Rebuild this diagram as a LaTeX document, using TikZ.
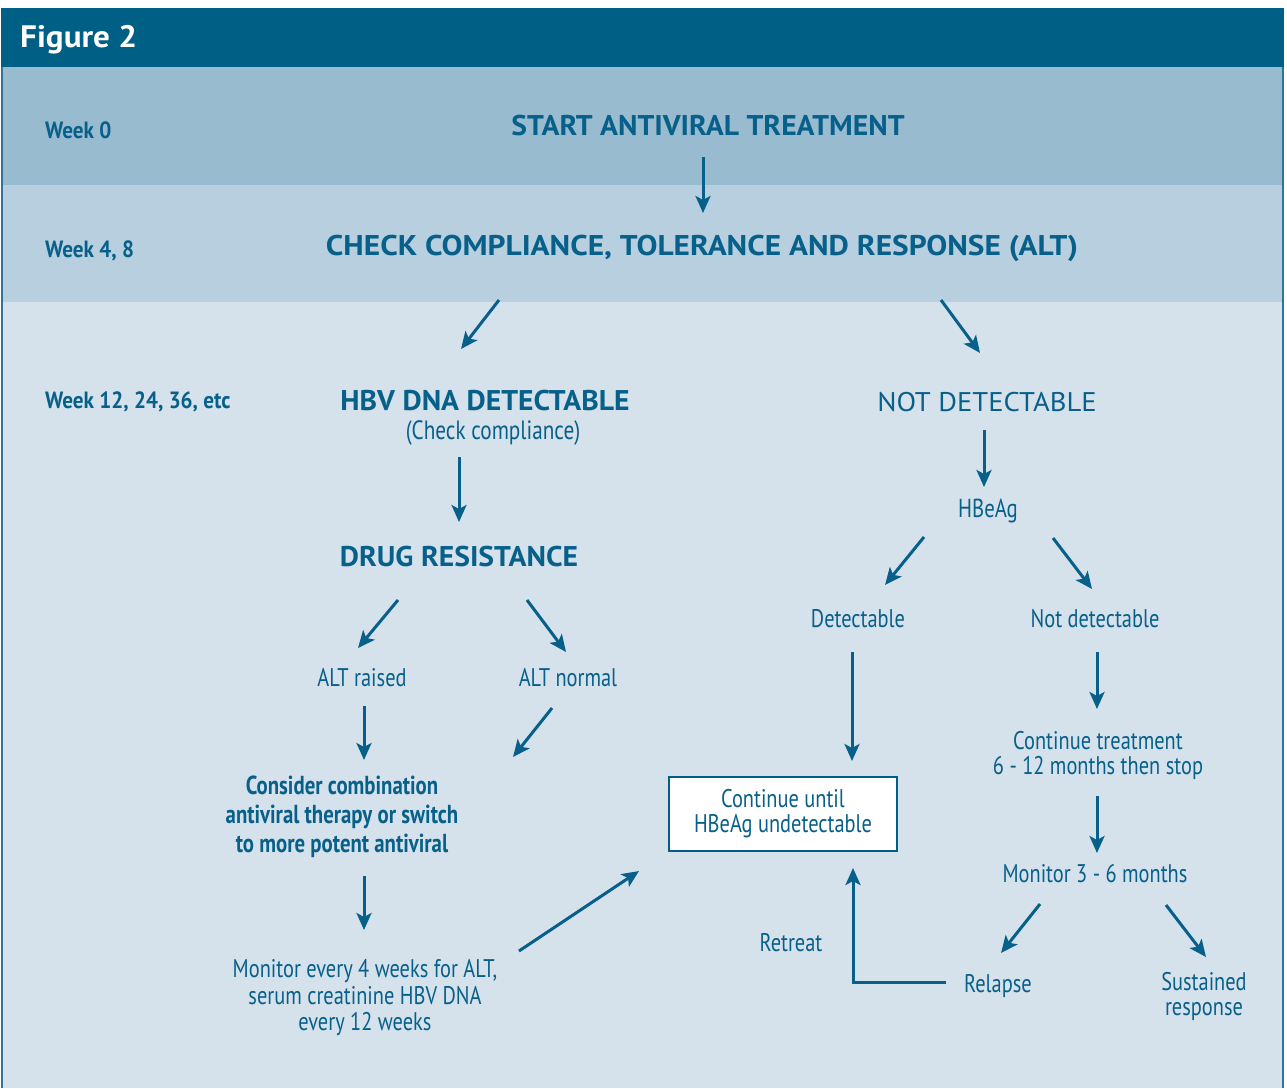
\documentclass[tikz,border=0pt]{standalone}
\usepackage{fontspec}
\setmainfont{PT Sans}[FakeStretch=0.8]
\newfontfamily\bigboldfont{PT Sans}[FakeStretch=1.04]
\newfontfamily\checkfont{PT Sans}[FakeStretch=1.10]
\newfontfamily\figfont{PT Sans}[FakeStretch=1.07]
\newfontfamily\weekfont{PT Sans}[FakeStretch=0.9]
\newfontfamily\capsfont{PT Sans}[FakeStretch=1.06]
\usetikzlibrary{arrows.meta}
\definecolor{hdr}{HTML}{005F84}
\definecolor{bandA}{HTML}{99BBD0}
\definecolor{bandB}{HTML}{B7CFDE}
\definecolor{bandC}{HTML}{D5E1EB}
\definecolor{ink}{HTML}{07608A}
\definecolor{edgeline}{HTML}{2E7599}
\newcommand\fsz[2]{\fontsize{#1pt}{#2pt}\selectfont}
\tikzset{
  txt/.style={text=ink, inner sep=0pt, align=center, font=\fsz{25.5}{25}},
  bigbold/.style={txt, font=\bigboldfont\bfseries\fsz{28.5}{30}},
  midbold/.style={txt, font=\bfseries\fsz{26}{29}},
  weeklbl/.style={txt, anchor=base west, font=\weekfont\bfseries\fsz{23.5}{25}},
  arr/.style={draw=ink, line width=3pt, -{Stealth[length=17pt,width=15pt,inset=4pt]}},
  ctbox/.style={txt, draw=hdr, fill=white, line width=1.5pt, minimum width=228pt, minimum height=74pt},
}
\begin{document}
\begin{tikzpicture}[x=1pt,y=-1pt]
\useasboundingbox (0,0) rectangle (1287,1088);
\fill[white] (0,0) rectangle (1287,1088);
% bands
\fill[bandC] (2,302) rectangle (1283,1088);
\fill[bandB] (2,185) rectangle (1283,302);
\fill[bandA] (2,67) rectangle (1283,185);
\fill[hdr] (1,8) rectangle (1284,67);
\draw[edgeline, line width=2pt] (2,67) -- (2,1088);
\draw[edgeline, line width=2pt] (1283,67) -- (1283,1088);
% header
\node[anchor=base west, inner sep=0pt, text=white, font=\figfont\bfseries\fsz{31}{33}] (fig) at (20,47) {Figure 2};
% week labels
\node[weeklbl] (w0) at (45,138) {Week 0};
\node[weeklbl] (w4) at (45,257) {Week 4, 8};
\node[weeklbl] (w12) at (45,408) {Week 12, 24, 36, etc};
% main nodes
\node[bigbold, anchor=base] (start) at (708,135) {START ANTIVIRAL TREATMENT};
\node[bigbold, anchor=base, font=\checkfont\bfseries\fsz{28.5}{30}] (check) at (702,255) {CHECK COMPLIANCE, TOLERANCE AND RESPONSE (ALT)};
\node[bigbold, anchor=base] (hbv) at (485,410) {HBV DNA DETECTABLE};
\node[txt, anchor=base, font=\fsz{26.5}{28}] (cc) at (493,439) {(Check compliance)};
\node[txt, anchor=base, font=\capsfont\fsz{27}{29}] (notdet) at (987,411) {NOT DETECTABLE};
\node[txt, anchor=base, font=\fsz{26}{28}] (hbeag) at (988,517) {HBeAg};
\node[bigbold, anchor=base] (drug) at (459,566) {DRUG RESISTANCE};
\node[txt, anchor=base] (det) at (858,627) {Detectable};
\node[txt, anchor=base] (ndet) at (1095,627) {Not detectable};
\node[txt, anchor=base] (raised) at (362,686) {ALT raised};
\node[txt, anchor=base] (normal) at (568,686) {ALT normal};
\node[midbold] (consider) at (342,817) {Consider combination\\antiviral therapy or switch\\to more potent antiviral};
\node[txt] (conttr) at (1098,755) {Continue treatment\\6 - 12 months then stop};
\node[ctbox] (until) at (783,814) {Continue until\\HBeAg undetectable};
\node[txt, anchor=base] (mon36) at (1095,882) {Monitor 3 - 6 months};
\node[txt, anchor=base] (retreat) at (791,951) {Retreat};
\node[txt, anchor=base] (relapse) at (998,992) {Relapse};
\node[txt] (sust) at (1204,996.5) {Sustained\\response};
\node[txt, font=\fsz{25.5}{26.5}] (mon4) at (365,998) {Monitor every 4 weeks for ALT,\\serum creatinine HBV DNA\\every 12 weeks};
% connector end points
\coordinate (s1) at (703,157);  \coordinate (t1) at (703,213);
\coordinate (s2) at (499,300);  \coordinate (t2) at (461,349);
\coordinate (s3) at (941,300);  \coordinate (t3) at (980,353);
\coordinate (s4) at (459,457);  \coordinate (t4) at (459,522);
\coordinate (s5) at (984,430);  \coordinate (t5) at (984,487);
\coordinate (s6) at (924,537);  \coordinate (t6) at (885,585);
\coordinate (s7) at (1053,538); \coordinate (t7) at (1092,589);
\coordinate (s8) at (398,600);  \coordinate (t8) at (358,648);
\coordinate (s9) at (527,600);  \coordinate (t9) at (566,652);
\coordinate (s10) at (364,706); \coordinate (t10) at (364,760);
\coordinate (s11) at (552,708); \coordinate (t11) at (513,757);
\coordinate (s12) at (852,652); \coordinate (t12) at (852,761);
\coordinate (s13) at (1097,652); \coordinate (t13) at (1097,709);
\coordinate (s14) at (364,876); \coordinate (t14) at (364,930);
\coordinate (s15) at (1097,796); \coordinate (t15) at (1097,853);
\coordinate (s16) at (519,951); \coordinate (t16) at (639,871);
\coordinate (s17) at (1040,904); \coordinate (t17) at (1001,953);
\coordinate (s18) at (1166,905); \coordinate (t18) at (1206,957);
\coordinate (s19) at (946,982); \coordinate (k19) at (853,982); \coordinate (t19) at (853,868);
% connectors
\foreach \i in {1,...,18} {\draw[arr] (s\i) -- (t\i);}
\draw[arr] (s19) -- (k19) -- (t19);
\end{tikzpicture}
\end{document}
